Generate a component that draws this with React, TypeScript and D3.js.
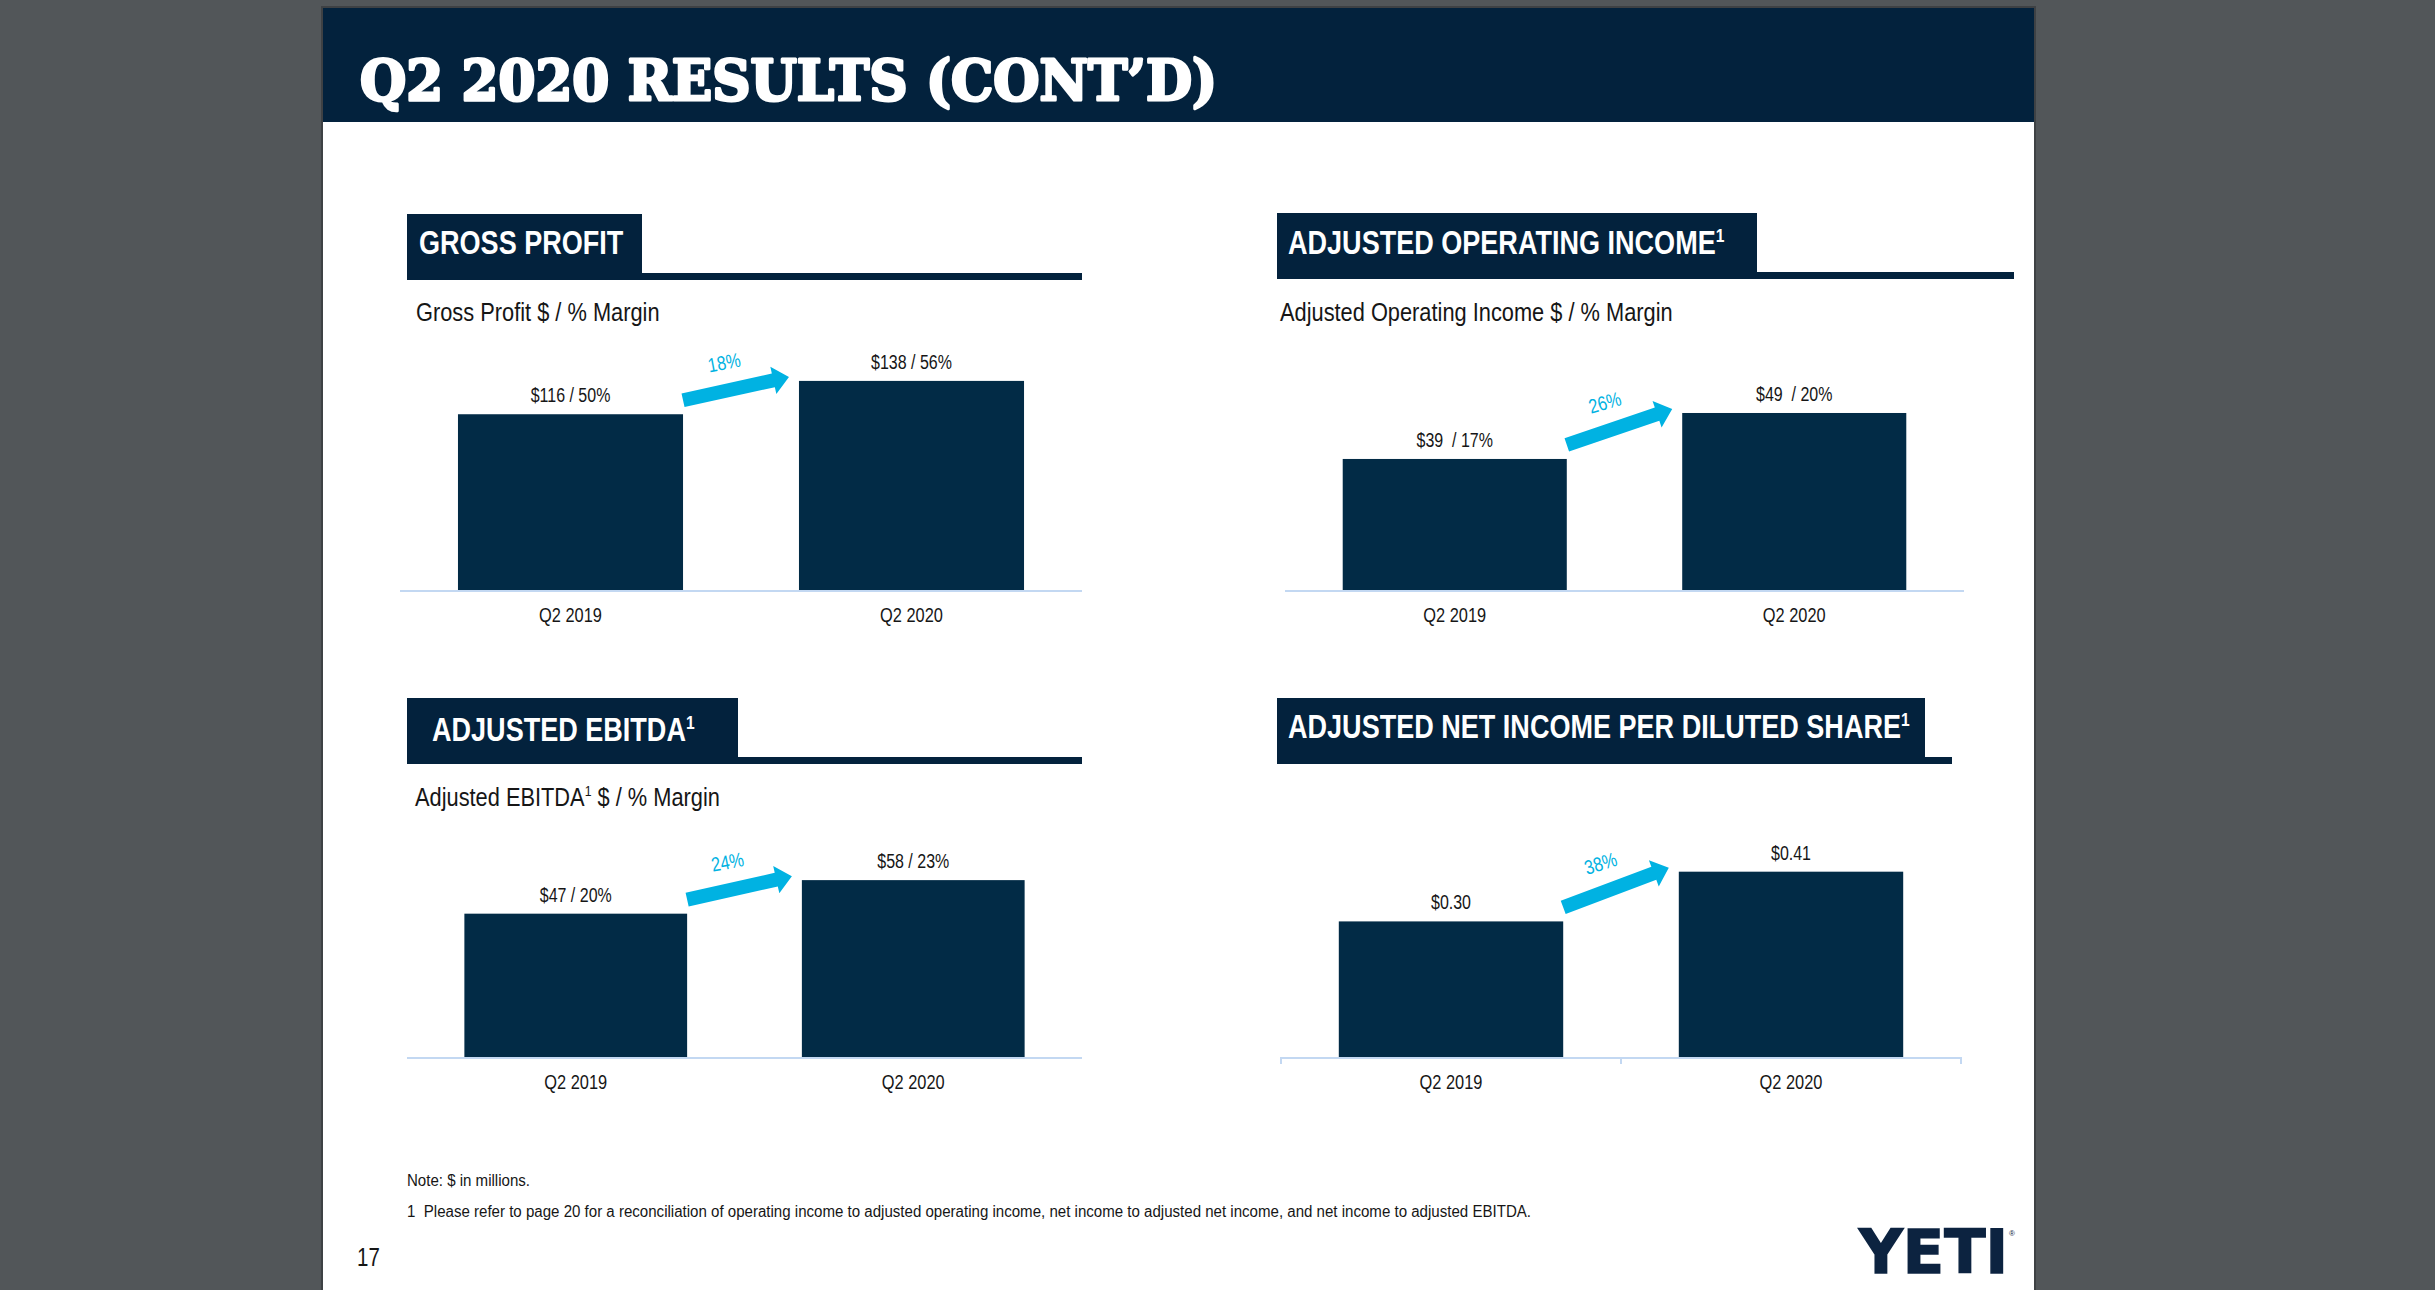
import React, { useEffect } from "react";
import * as d3 from "d3";

// ---------- data ----------
const categories = ["Q2 2019", "Q2 2020"];

const grossProfitValues = [116, 138];
const grossProfitLabels = ["$116 / 50%", "$138 / 56%"];
const grossProfitGrowth = "18%";

const adjOperatingIncomeValues = [39, 49];
const adjOperatingIncomeLabels = ["$39  / 17%", "$49  / 20%"];
const adjOperatingIncomeGrowth = "26%";

const adjEbitdaValues = [47, 58];
const adjEbitdaLabels = ["$47 / 20%", "$58 / 23%"];
const adjEbitdaGrowth = "24%";

const adjEpsValues = [0.3, 0.41];
const adjEpsLabels = ["$0.30", "$0.41"];
const adjEpsGrowth = "38%";

const panelTitles = [
  { text: "GROSS PROFIT", sup: "" },
  { text: "ADJUSTED OPERATING INCOME", sup: "1" },
  { text: "ADJUSTED EBITDA", sup: "1" },
  { text: "ADJUSTED NET INCOME PER DILUTED SHARE", sup: "1" },
];
const panelSubtitles = [
  { pre: "Gross Profit $ / % Margin", sup: "", post: "" },
  { pre: "Adjusted Operating Income $ / % Margin", sup: "", post: "" },
  { pre: "Adjusted EBITDA", sup: "1", post: " $ / % Margin" },
  null,
];

const pageTitle = "Q2 2020 RESULTS (CONT\u2019D)";
const noteText = "Note: $ in millions.";
const footnoteText =
  "1  Please refer to page 20 for a reconciliation of operating income to adjusted operating income, net income to adjusted net income, and net income to adjusted EBITDA.";
const pageNumber = "17";

// ---------- layout / style ----------
const W = 2435;
const H = 1290;
const NAVY = "#03223d";
const BAR = "#022b46";
const CYAN = "#00b2e2";
const AXIS = "#c3d8f2";
const TEXT = "#161616";
const FONT = "'Liberation Sans', Arial, Helvetica, sans-serif";
const NARROW = 0.82;
const PLOT_H = 240;

const layouts = [
  { left: 400, right: 1082, axisY: 590, boxX: 407, boxY: 214, boxW: 235, boxH: 66, lineEnd: 1082, titleX: 419, titleY: 254, subX: 416, subY: 321, yDomain: [0, 158.4], ticks: false },
  { left: 1285, right: 1964, axisY: 590, boxX: 1277, boxY: 213, boxW: 480, boxH: 66, lineEnd: 2014, titleX: 1288, titleY: 254, subX: 1280, subY: 321, yDomain: [10.5, 62.7], ticks: false },
  { left: 407, right: 1082, axisY: 1057, boxX: 407, boxY: 698, boxW: 331, boxH: 66, lineEnd: 1082, titleX: 432, titleY: 741, subX: 415, subY: 806, yDomain: [0, 78.7], ticks: false },
  { left: 1281, right: 1961, axisY: 1057, boxX: 1277, boxY: 698, boxW: 648, boxH: 66, lineEnd: 1952, titleX: 1288, titleY: 738, subX: 0, subY: 0, yDomain: [0, 0.531], ticks: true },
];

const panelValues = [grossProfitValues, adjOperatingIncomeValues, adjEbitdaValues, adjEpsValues];
const panelLabels = [grossProfitLabels, adjOperatingIncomeLabels, adjEbitdaLabels, adjEpsLabels];
const panelGrowth = [grossProfitGrowth, adjOperatingIncomeGrowth, adjEbitdaGrowth, adjEpsGrowth];

function NText(props: any) {
  const { x, y, size, fill = TEXT, anchor = "start", weight = 400, rotate = 0, children } = props;
  return (
    <text
      transform={`translate(${x},${y}) rotate(${rotate}) scale(${NARROW},1)`}
      fontSize={size}
      fill={fill}
      textAnchor={anchor}
      fontWeight={weight}
      fontFamily={FONT}
      style={{ whiteSpace: "pre" }}
    >
      {children}
    </text>
  );
}

function Arrow({ sx, sy, ex, ey, label }: any) {
  const dx = ex - sx;
  const dy = ey - sy;
  const L = Math.sqrt(dx * dx + dy * dy);
  const a = Math.atan2(dy, dx);
  const deg = (a * 180) / Math.PI;
  const hl = 16;
  const sw = 7;
  const hw = 14;
  const pts = [
    [0, -sw], [L - hl, -sw], [L - hl, -hw], [L, 0], [L - hl, hw], [L - hl, sw], [0, sw],
  ].map((p) => p.join(",")).join(" ");
  const mx = (sx + ex) / 2;
  const my = (sy + ey) / 2;
  const nx = Math.sin(a);
  const ny = -Math.cos(a);
  const lx = mx + nx * 28 - Math.cos(a) * 6;
  const ly = my + ny * 28 - Math.sin(a) * 6;
  return (
    <g>
      <polygon points={pts} fill={CYAN} transform={`translate(${sx},${sy}) rotate(${deg})`} />
      <text
        transform={`translate(${lx},${ly}) rotate(${deg * 0.85}) scale(${NARROW},1)`}
        fontSize={20}
        fill={CYAN}
        textAnchor="middle"
        dy="0.35em"
        fontFamily={FONT}
      >
        {label}
      </text>
    </g>
  );
}

function Panel({ idx }: { idx: number }) {
  const lay = layouts[idx];
  const values = panelValues[idx];
  const labels = panelLabels[idx];
  const title = panelTitles[idx];
  const sub = panelSubtitles[idx];

  const x = d3
    .scaleBand<string>()
    .domain(categories)
    .range([lay.left, lay.right])
    .paddingInner(0.34)
    .paddingOuter(0.17);
  const y = d3.scaleLinear().domain(lay.yDomain).range([lay.axisY, lay.axisY - PLOT_H]);

  const bw = x.bandwidth();
  const b0 = x(categories[0])!;
  const b1 = x(categories[1])!;
  const top0 = y(values[0]);
  const top1 = y(values[1]);

  return (
    <g>
      {/* header */}
      <rect x={lay.boxX} y={lay.boxY} width={lay.boxW} height={lay.boxH} fill={NAVY} />
      <rect
        x={lay.boxX + lay.boxW}
        y={lay.boxY + lay.boxH - 7}
        width={lay.lineEnd - lay.boxX - lay.boxW}
        height={7}
        fill={NAVY}
      />
      <NText x={lay.titleX} y={lay.titleY} size={33} fill="#ffffff" weight={700}>
        {title.text}
        {title.sup ? (
          <tspan fontSize={19} dy={-12}>
            {title.sup}
          </tspan>
        ) : null}
      </NText>
      {sub ? (
        <NText x={lay.subX} y={lay.subY} size={26.6}>
          {sub.pre}
          {sub.sup ? (
            <tspan fontSize={15} dy={-10}>
              {sub.sup}
            </tspan>
          ) : null}
          {sub.post ? <tspan dy={10}>{sub.post}</tspan> : null}
        </NText>
      ) : null}

      {/* bars */}
      {categories.map((c, i) => (
        <rect
          key={c}
          x={x(c)}
          y={y(values[i])}
          width={bw}
          height={lay.axisY - y(values[i])}
          fill={BAR}
        />
      ))}
      {/* axis */}
      <line x1={lay.left} x2={lay.right} y1={lay.axisY + 1} y2={lay.axisY + 1} stroke={AXIS} strokeWidth={2} />
      {lay.ticks
        ? [lay.left, (x(categories[0])! + bw / 2 + x(categories[1])! + bw / 2) / 2, lay.right].map((tx, i) => (
            <line key={i} x1={tx} x2={tx} y1={lay.axisY} y2={lay.axisY + 7} stroke={AXIS} strokeWidth={2} />
          ))
        : null}
      {/* value labels */}
      {categories.map((c, i) => (
        <NText key={c} x={x(c)! + bw / 2} y={y(values[i]) - 12} size={19.5} anchor="middle">
          {labels[i]}
        </NText>
      ))}
      {/* category labels */}
      {categories.map((c) => (
        <NText key={c} x={x(c)! + bw / 2} y={lay.axisY + 32} size={20} anchor="middle">
          {c}
        </NText>
      ))}
      {/* growth arrow */}
      <Arrow sx={b0 + bw} sy={top0 - 14} ex={b1 - 10} ey={top1 - 4} label={panelGrowth[idx]} />
    </g>
  );
}

export default function App() {
  useEffect(() => {
    document.body.style.margin = "0";
    document.body.style.overflow = "hidden";
  }, []);
  return (
    <svg
      width={W}
      height={H}
      viewBox={`0 0 ${W} ${H}`}
      style={{ position: "absolute", left: 0, top: 0, display: "block" }}
    >
      <rect x={0} y={0} width={W} height={H} fill="#525659" />
      <rect x={321} y={6} width={1715} height={H} fill="#3e4144" />
      <rect x={323} y={8} width={1711} height={H} fill="#ffffff" />
      <rect x={323} y={8} width={1711} height={114} fill={NAVY} />
      <text
        x={360}
        y={100}
        fontSize={56}
        fontWeight={700}
        fontFamily="'DejaVu Serif', Georgia, serif"
        fill="#ffffff"
        stroke="#ffffff"
        strokeWidth={3}
        strokeLinejoin="round"
        textLength={857}
        lengthAdjust="spacingAndGlyphs"
      >
        {pageTitle}
      </text>

      {[0, 1, 2, 3].map((i) => (
        <Panel key={i} idx={i} />
      ))}

      <text x={407} y={1186} fontSize={16} fontFamily={FONT} fill={TEXT} textLength={123} lengthAdjust="spacingAndGlyphs">
        {noteText}
      </text>
      <text
        x={407}
        y={1217}
        fontSize={16}
        fontFamily={FONT}
        fill={TEXT}
        textLength={1124}
        lengthAdjust="spacingAndGlyphs"
        style={{ whiteSpace: "pre" }}
      >
        {footnoteText}
      </text>
      <NText x={357} y={1266} size={25}>
        {pageNumber}
      </NText>

      <text
        x={1859}
        y={1273}
        fontSize={60}
        fontWeight={700}
        fontFamily="'DejaVu Sans', Arial, sans-serif"
        fill="#0c2340"
        stroke="#0c2340"
        strokeWidth={1.5}
        textLength={149}
        lengthAdjust="spacingAndGlyphs"
      >
        YETI
      </text>
      <text x={2009} y={1236} fontSize={8} fontFamily={FONT} fill="#0c2340">
        ®
      </text>
    </svg>
  );
}
